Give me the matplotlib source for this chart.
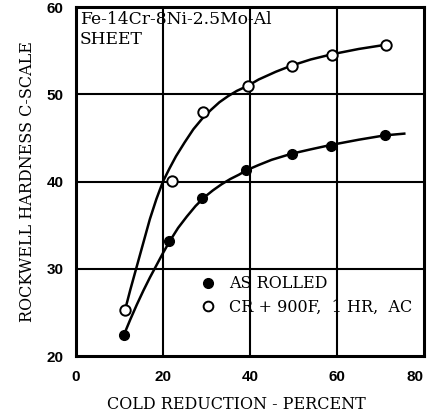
import matplotlib
matplotlib.use("Agg")
import matplotlib.pyplot as plt
from matplotlib.lines import Line2D

# measured points
x_rolled = [11.0, 21.4, 28.9, 39.2, 49.6, 58.6, 71.0]
y_rolled = [22.4, 33.2, 38.1, 41.3, 43.2, 44.1, 45.4]
x_aged = [11.3, 22.0, 29.3, 39.6, 49.6, 58.9, 71.4]
y_aged = [25.3, 40.1, 48.0, 51.0, 53.3, 54.5, 55.7]

# hand-drawn fit curves
cx_rolled = [11.0, 12.5, 14.0, 15.5, 17.0, 18.5, 20.0, 21.6, 23.5, 25.5, 27.5, 29.5, 31.5,
             33.5, 35.5, 37.5, 39.2, 42.0, 45.0, 49.6, 54.0, 58.6, 65.0, 71.0, 75.5]
cy_rolled = [22.4, 24.2, 25.9, 27.5, 29.0, 30.4, 31.8, 33.2, 34.7, 36.0, 37.2, 38.2, 39.0,
             39.7, 40.3, 40.8, 41.3, 41.9, 42.5, 43.2, 43.7, 44.2, 44.8, 45.3, 45.5]
cx_aged = [11.3, 12.5, 14.0, 15.5, 17.0, 18.5, 20.0, 21.5, 23.0, 25.0, 27.0, 29.0, 31.0,
           33.0, 35.0, 37.0, 39.6, 42.0, 46.0, 49.6, 54.0, 58.9, 65.0, 71.4]
cy_aged = [25.3, 27.6, 30.3, 33.0, 35.7, 38.0, 40.0, 41.5, 42.9, 44.5, 46.0, 47.2, 48.2,
           49.1, 49.8, 50.4, 51.0, 51.7, 52.6, 53.3, 54.0, 54.6, 55.2, 55.7]

xticks = [0, 20, 40, 60, 80]
yticks = [20, 30, 40, 50, 60]

serif = "DejaVu Serif"
tickfont = dict(family="Liberation Sans", fontsize=11, fontweight="bold")

fig = plt.figure(figsize=(4.29, 4.18), dpi=100)
ax = fig.add_axes([0.177, 0.148, 0.811, 0.835])

ax.set_xlim(0, 80)
ax.set_ylim(20, 60)
ax.set_xticks(xticks, labels=[str(t) for t in xticks], **tickfont)
ax.set_yticks(yticks, labels=[str(t) for t in yticks], **tickfont)
ax.get_xticklabels()[-1].set_ha("right")
ax.tick_params(axis="x", length=0, pad=10)
ax.tick_params(axis="y", length=0, pad=9)

for v in [20, 40, 60]:
    ax.axvline(v, color="black", lw=1.5, zorder=1)
for v in [30, 40, 50]:
    ax.axhline(v, color="black", lw=1.5, zorder=1)
for s in ax.spines.values():
    s.set_linewidth(2.2)

ax.plot(cx_aged, cy_aged, color="black", lw=1.8, zorder=2)
ax.plot(cx_rolled, cy_rolled, color="black", lw=1.8, zorder=2)
ax.plot(x_rolled, y_rolled, "o", ms=7, mfc="black", mec="black", zorder=3)
ax.plot(x_aged, y_aged, "o", ms=7.5, mfc="white", mec="black", mew=1.4, zorder=3)

ax.text(0.012, 0.99, "Fe-14Cr-8Ni-2.5Mo-Al\nSHEET", transform=ax.transAxes,
        va="top", ha="left", family=serif, fontsize=12.3, linespacing=1.3)

handles = [Line2D([], [], ls="none", marker="o", ms=7, mfc="black", mec="black"),
           Line2D([], [], ls="none", marker="o", ms=7, mfc="white", mec="black", mew=1.4)]
ax.legend(handles, ["AS ROLLED", "CR + 900F,  1 HR,  AC"], loc="upper left",
          bbox_to_anchor=(0.335, 0.255), frameon=False, handlelength=1.0,
          handletextpad=0.8, labelspacing=0.4, borderpad=0,
          prop={"family": serif, "size": 11.5})

ax.set_xlabel("COLD REDUCTION - PERCENT", family=serif, fontsize=11.5)
ax.set_ylabel("ROCKWELL HARDNESS C-SCALE", family=serif, fontsize=11.5)
ax.xaxis.set_label_coords(0.46, -0.115)
ax.yaxis.set_label_coords(-0.115, 0.5)

fig.savefig("out.png", dpi=100)
